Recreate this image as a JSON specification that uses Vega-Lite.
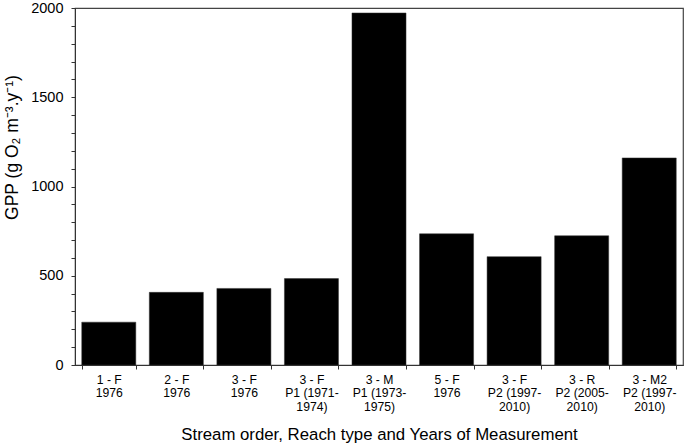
{
  "$schema": "https://vega.github.io/schema/vega-lite/v6.json",
  "width": 608,
  "height": 357,
  "autosize": {"type": "none"},
  "padding": {"left": 75, "top": 8, "right": 2, "bottom": 80},
  "background": "white",
  "config": {
    "view": {"stroke": "#444", "strokeWidth": 1.2},
    "font": "Liberation Sans"
  },
  "data": {
    "values": [
      {"site": "1 - F|1976", "gpp": 240},
      {"site": "2 - F|1976", "gpp": 407},
      {"site": "3 - F|1976", "gpp": 429},
      {"site": "3 - F|P1 (1971-|1974)", "gpp": 484},
      {"site": "3 - M|P1 (1973-|1975)", "gpp": 1972},
      {"site": "5 - F|1976", "gpp": 735},
      {"site": "3 - F|P2 (1997-|2010)", "gpp": 607},
      {"site": "3 - R|P2 (2005-|2010)", "gpp": 724},
      {"site": "3 - M2|P2  (1997-|2010)", "gpp": 1160}
    ]
  },
  "mark": {"type": "bar", "color": "black", "stroke": "#333", "strokeWidth": 0.5},
  "encoding": {
    "x": {
      "field": "site",
      "type": "nominal",
      "sort": null,
      "scale": {"paddingInner": 0.2, "paddingOuter": 0.1},
      "axis": {
        "title": "Stream order, Reach type and Years of Measurement",
        "titleFont": "Liberation Sans",
        "titleFontSize": 16.8,
        "titleFontWeight": "normal",
        "titleColor": "black",
        "titlePadding": 14,
        "labelExpr": "split(datum.label, '|')",
        "labelAngle": 0,
        "labelFontSize": 12.2,
        "labelColor": "black",
        "labelLineHeight": 13.5,
        "labelPadding": 4,
        "tickBand": "extent",
        "tickSize": 4,
        "tickColor": "#333",
        "domainColor": "#333"
      }
    },
    "y": {
      "field": "gpp",
      "type": "quantitative",
      "scale": {"domain": [0, 2000], "nice": false},
      "axis": {
        "title": "GPP (g O₂ m⁻³.y⁻¹)",
        "titleFont": "Liberation Sans",
        "titleFontSize": 17.5,
        "titleFontWeight": "normal",
        "titleColor": "black",
        "titlePadding": 9,
        "titleY": 139,
        "titleAlign": "center",
        "values": [0,100,200,300,400,500,600,700,800,900,1000,1100,1200,1300,1400,1500,1600,1700,1800,1900,2000],
        "labelExpr": "datum.value % 500 === 0 ? datum.label : ''",
        "format": "d",
        "labelFontSize": 14.5,
        "labelColor": "black",
        "labelPadding": 8,
        "tickSize": 4,
        "tickColor": "#333",
        "domainColor": "#333",
        "grid": false
      }
    }
  }
}
